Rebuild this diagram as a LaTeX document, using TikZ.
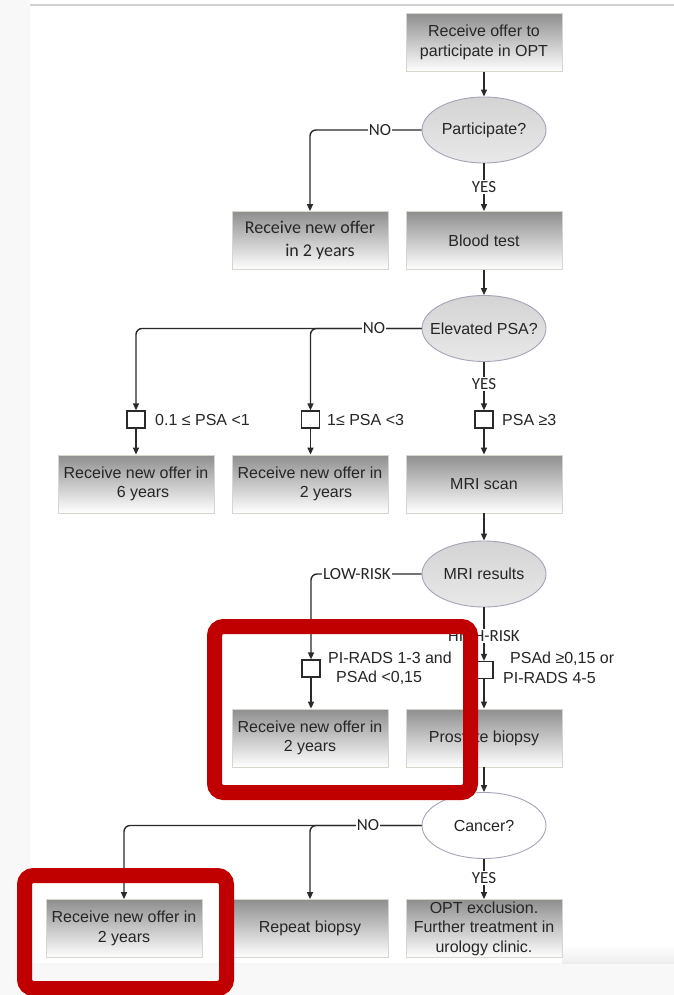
\documentclass[tikz,border=0pt]{standalone}
\usepackage{fontspec}
\setmainfont{Liberation Sans}
\newfontfamily\lblfont{Carlito}
\usetikzlibrary{shapes.geometric,arrows.meta}
\definecolor{boxedge}{HTML}{D6D6CC}
\definecolor{elledge}{HTML}{A4A4B6}
\definecolor{linec}{HTML}{2A2A2A}
\definecolor{hlred}{HTML}{C00000}
\definecolor{pagegray}{HTML}{F8F8F8}
\definecolor{rulegray}{HTML}{D2D2D2}
\begin{document}
\begin{tikzpicture}[x=1pt,y=-1pt,
 stepbox/.style={rectangle, draw=boxedge, line width=0.8pt, top color=black!44, bottom color=white, minimum width=156pt, minimum height=58pt, inner sep=2pt, align=center, font=\fontsize{16}{19.5}\selectfont, text=black!85},
 decis/.style={ellipse, draw=elledge, line width=0.9pt, top color=black!17, bottom color=black!9, minimum width=124pt, minimum height=66pt, inner sep=0pt, font=\fontsize{16}{19}\selectfont, text=black!85},
 chk/.style={rectangle, draw=linec, line width=1.2pt, fill=white, minimum width=18pt, minimum height=17pt, inner sep=0pt},
 cond/.style={anchor=west, align=left, font=\fontsize{16}{19.5}\selectfont, text=black!85, inner sep=0pt},
 lbl/.style={fill=white, inner sep=1pt, font=\lblfont\fontsize{17}{17}\selectfont, text=black!85},
 conn/.style={draw=linec, line width=1.4pt, rounded corners=6pt, -{Triangle[length=7pt,width=6pt]}},
 hl/.style={draw=hlred, line width=15pt, rounded corners=9pt},
]
\useasboundingbox (0,0) rectangle (674,995);
% page background
\fill[white] (0,0) rectangle (674,995);
\fill[pagegray] (0,0) rectangle (30,995);
\fill[pagegray] (30,963) rectangle (674,995);
\shade[top color=white, bottom color=black!7] (562,945) rectangle (674,963);
\draw[rulegray, line width=2pt] (30,5) -- (674,5);

% nodes
\node[stepbox] (b1) at (484,42.5) {Receive offer to\\participate in OPT};
\node[decis] (q1) at (484,130) {\makebox[0pt]{Participate?}};
\node[stepbox, font=\lblfont\fontsize{18}{23}\selectfont] (b2) at (310,240.5) {Receive new offer\\\hspace*{20pt}in 2 years};
\node[stepbox] (bt) at (484,240.5) {Blood test};
\node[decis] (q2) at (484,328.5) {\makebox[0pt]{Elevated PSA?}};

\node[chk] (s1) at (136,419.5) {};
\node[chk] (s2) at (310.5,419.5) {};
\node[chk] (s3) at (484,419.5) {};
\node[cond] (c1) at (155,420) {0.1 ≤ PSA <1};
\node[cond] (c2) at (327,420) {1≤ PSA <3};
\node[cond] (c3) at (502,420) {PSA ≥3};

\node[stepbox] (b3) at (136,484) {Receive new offer in\\\hspace*{14pt}6 years};
\node[stepbox] (b4) at (310,484) {Receive new offer in\\\hspace*{32pt}2 years};
\node[stepbox] (b5) at (484,484) {MRI scan};
\node[decis] (q3) at (484,574) {\makebox[0pt]{MRI results}};

\node[chk] (s4) at (311,668.5) {};
\node[chk] (s5) at (484,670) {};
\node[cond] (c4) at (328,668) {PI-RADS 1-3 and\\\hspace*{8pt}PSAd <0,15};
\node[cond] (c5) at (503,668) {\hspace*{7pt}PSAd ≥0,15 or\\PI-RADS 4-5};

\node[stepbox] (b6) at (310,738) {Receive new offer in\\2 years};
\node[stepbox] (b7) at (484,738) {Prostate biopsy};
\node[decis, top color=white, bottom color=white] (q4) at (484,825.5) {\makebox[0pt]{Cancer?}};

\node[stepbox] (b8) at (124,928.5) {Receive new offer in\\2 years};
\node[stepbox] (b9) at (310,928.5) {Repeat biopsy};
\node[stepbox] (b10) at (484,928.5) {OPT exclusion.\\Further treatment in\\urology clinic.};

% connectors
\draw[conn] (b1.south) -- (q1.north);
\draw[conn] (q1.west) -| (b2.north);
\draw[conn] (q1.south) -- (bt.north);
\draw[conn] (bt.south) -- (q2.north);
\draw[conn] (q2.west) -| (s1.north);
\draw[conn] (q2.west) -| (s2.north);
\draw[conn] (q2.south) -- (s3.north);
\draw[conn] (s1.south) -- (s1.south |- b3.north);
\draw[conn] (s2.south) -- (s2.south |- b4.north);
\draw[conn] (s3.south) -- (b5.north);
\draw[conn] (b5.south) -- (q3.north);
\draw[conn] (q3.west) -| (s4.north);
\draw[conn] (q3.south) -- (s5.north);
\draw[conn] (s4.south) -- (s4.south |- b6.north);
\draw[conn] (s5.south) -- (b7.north);
\draw[conn] (b7.south) -- (q4.north);
\draw[conn] (q4.west) -| (b8.north);
\draw[conn] (q4.west) -| (b9.north);
\draw[conn] (q4.south) -- (b10.north);

% connector labels
\node[lbl] (n1) at (380,130) {NO};
\node[lbl] (y1) at (484,187) {YES};
\node[lbl] (n2) at (374,328.5) {NO};
\node[lbl] (y2) at (484,384) {YES};
\node[lbl] (lr) at (357,574) {LOW-RISK};
\node[lbl] (hr) at (484,636) {HIGH-RISK};
\node[lbl] (n3) at (368,825.5) {NO};
\node[lbl] (y3) at (484,878) {YES};

% highlight frames
\draw[hl] (214.5,626.5) rectangle (470.5,792.5);
\draw[hl] (24.5,875.5) rectangle (226.5,988.5);
\end{tikzpicture}
\end{document}
